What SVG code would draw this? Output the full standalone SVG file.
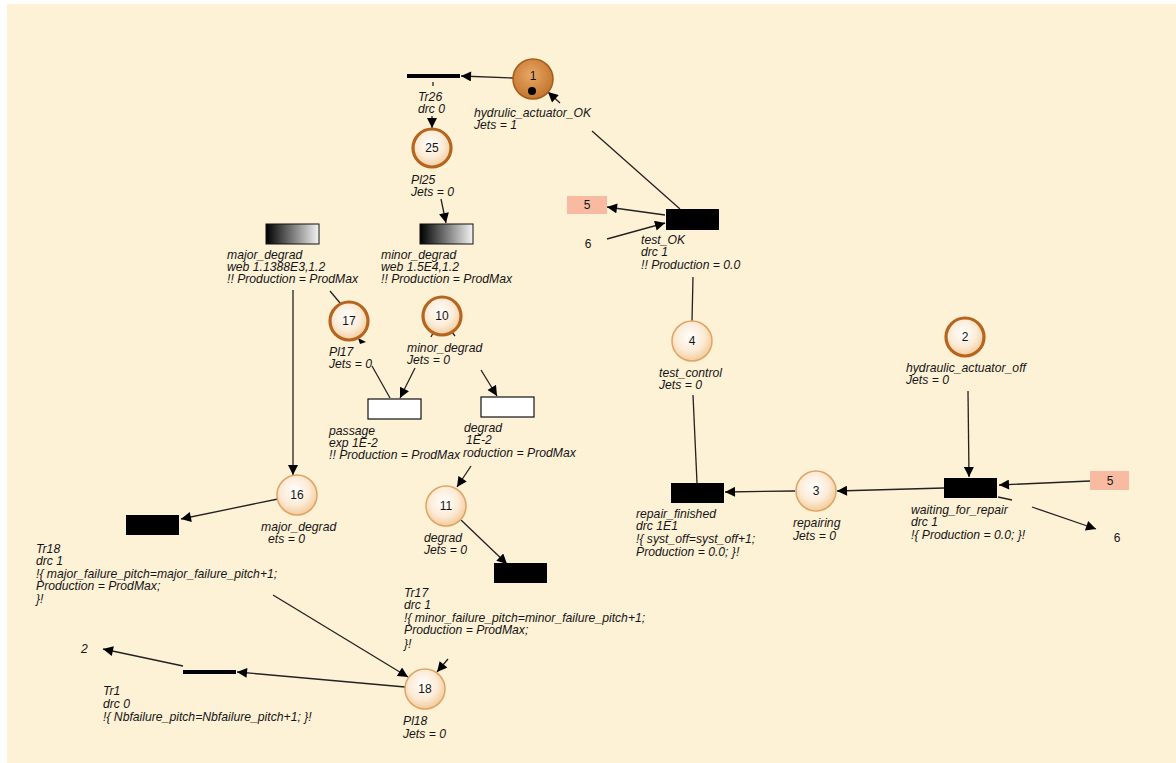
<svg xmlns="http://www.w3.org/2000/svg" width="1176" height="763" viewBox="0 0 1176 763">
<style>
.lbl{font-family:"Liberation Sans",Arial,sans-serif;font-size:12.2px;font-style:italic;fill:#151515}
.num{font-family:"Liberation Sans",Arial,sans-serif;font-size:12px;fill:#151515;text-anchor:middle}
.edge{stroke:#222;stroke-width:1.3;fill:none}
.arr{marker-end:url(#ah)}
.thick{fill:url(#pl);stroke:#B5651D;stroke-width:3.2}
.thin{fill:url(#pl);stroke:#E0A463;stroke-width:1.5}
.bar{fill:#000}
.tr{fill:#000}
.wt{fill:#fff;stroke:#111;stroke-width:1.2}
.gr{fill:url(#gd);stroke:#111;stroke-width:1}
.ext{fill:#F8BBA2}
</style>
<defs>
<radialGradient id="pl" cx="0.45" cy="0.4" r="0.6">
<stop offset="0" stop-color="#FFFFFF"/>
<stop offset="0.6" stop-color="#FCEBD6"/>
<stop offset="1" stop-color="#F3CB9C"/>
</radialGradient>
<radialGradient id="p1" cx="0.45" cy="0.4" r="0.65">
<stop offset="0" stop-color="#E8A764"/>
<stop offset="1" stop-color="#C0722A"/>
</radialGradient>
<linearGradient id="gd" x1="0" y1="0" x2="1" y2="0">
<stop offset="0" stop-color="#000"/>
<stop offset="1" stop-color="#F4F4F4"/>
</linearGradient>
<marker id="ah" viewBox="0 0 10 10" refX="10" refY="5" markerWidth="11" markerHeight="10" markerUnits="userSpaceOnUse" orient="auto">
<path d="M0,0 L10,5 L0,10 z" fill="#000"/>
</marker>
</defs>
<rect x="0" y="0" width="1176" height="763" fill="#fff"/>
<rect x="7" y="4" width="1169" height="759" fill="#FDF1D6"/>

<g id="connectors">
<line class="edge arr" x1="513" y1="78" x2="461" y2="76"/>
<line class="edge" x1="433" y1="82" x2="433" y2="86"/>
<line class="edge arr" x1="432" y1="116" x2="432" y2="128"/>
<line class="edge arr" x1="441" y1="199" x2="446" y2="223"/>
<line class="edge arr" x1="293" y1="290" x2="293" y2="475"/>
<line class="edge" x1="330" y1="291" x2="340" y2="303"/>
<path d="M358,338 L366,342 L360,344 z" fill="#000"/>
<line class="edge" x1="372" y1="366" x2="390" y2="398"/>
<path d="M438,296 L446,296 L442,301 z" fill="#000"/>
<line class="edge" x1="433" y1="333" x2="431" y2="337"/>
<line class="edge" x1="452" y1="332" x2="455" y2="336"/>
<line class="edge arr" x1="415" y1="368" x2="400" y2="398"/>
<line class="edge arr" x1="481" y1="370" x2="497" y2="396"/>
<line class="edge arr" x1="471" y1="466" x2="457" y2="487"/>
<line class="edge arr" x1="461" y1="520" x2="507" y2="564"/>
<line class="edge arr" x1="278" y1="499" x2="181" y2="519"/>
<line class="edge arr" x1="273" y1="595" x2="408" y2="677"/>
<line class="edge arr" x1="448" y1="659" x2="437" y2="672"/>
<line class="edge arr" x1="405" y1="687" x2="237" y2="672"/>
<line class="edge arr" x1="183" y1="666" x2="103" y2="649"/>
<line class="edge" x1="680" y1="209" x2="592" y2="131"/>
<line class="edge arr" x1="560" y1="103" x2="548" y2="92"/>
<line class="edge arr" x1="665" y1="215" x2="607" y2="207"/>
<line class="edge arr" x1="607" y1="239" x2="665" y2="223"/>
<line class="edge" x1="693" y1="277" x2="692" y2="321"/>
<line class="edge" x1="693" y1="395" x2="697" y2="483"/>
<line class="edge arr" x1="795" y1="491" x2="725" y2="492"/>
<line class="edge arr" x1="944" y1="488" x2="837" y2="491"/>
<line class="edge arr" x1="968" y1="391" x2="969" y2="477"/>
<line class="edge arr" x1="1090" y1="481" x2="999" y2="485"/>
<line class="edge" x1="998" y1="497" x2="1012" y2="500"/>
<line class="edge arr" x1="1032" y1="507" x2="1096" y2="529"/>
</g>

<g id="P1">
<circle cx="533" cy="79" r="20" fill="url(#p1)" stroke="#A65C18" stroke-width="1.5"/>
<text class="num" x="533" y="80">1</text>
<circle cx="532" cy="91" r="4" fill="#000"/>
<text class="lbl" x="474" y="117">hydrulic_actuator_OK</text>
<text class="lbl" x="474" y="129">Jets = 1</text>
</g>
<g id="Tr26">
<rect class="bar" x="407" y="74" width="53" height="4"/>
<text class="lbl" x="418" y="101">Tr26</text>
<text class="lbl" x="418" y="113">drc  0</text>
</g>
<g id="P25">
<circle class="thick" cx="432" cy="148" r="19"/>
<text class="num" x="432" y="152">25</text>
<text class="lbl" x="411" y="184">Pl25</text>
<text class="lbl" x="411" y="196">Jets = 0</text>
</g>
<g id="T_major_degrad">
<rect class="gr" x="266" y="224" width="53" height="20"/>
<text class="lbl" x="227" y="259">major_degrad</text>
<text class="lbl" x="227" y="271">web 1.1388E3,1.2</text>
<text class="lbl" x="227" y="283">!! Production = ProdMax</text>
</g>
<g id="T_minor_degrad">
<rect class="gr" x="420" y="224" width="53" height="20"/>
<text class="lbl" x="381" y="259">minor_degrad</text>
<text class="lbl" x="381" y="271">web 1.5E4,1.2</text>
<text class="lbl" x="381" y="283">!! Production = ProdMax</text>
</g>
<g id="P17">
<circle class="thick" cx="349" cy="321" r="19"/>
<text class="num" x="349" y="325">17</text>
<text class="lbl" x="329" y="356">Pl17</text>
<text class="lbl" x="329" y="368">Jets = 0</text>
</g>
<g id="P10">
<circle class="thick" cx="442" cy="316" r="19"/>
<text class="num" x="442" y="320">10</text>
<text class="lbl" x="407" y="352">minor_degrad</text>
<text class="lbl" x="407" y="364">Jets = 0</text>
</g>
<g id="T_passage">
<rect class="wt" x="368" y="399" width="53" height="20"/>
<text class="lbl" x="329" y="435">passage</text>
<text class="lbl" x="329" y="447">exp 1E-2</text>
<text class="lbl" x="329" y="459">!! Production = ProdMax</text>
</g>
<g id="T_degrad">
<rect class="wt" x="481" y="397" width="53" height="20"/>
<text class="lbl" x="464" y="432">degrad</text>
<text class="lbl" x="466" y="444">1E-2</text>
<text class="lbl" x="463" y="457">roduction = ProdMax</text>
</g>
<g id="P16">
<circle class="thin" cx="297" cy="495" r="20"/>
<text class="num" x="297" y="499">16</text>
<text class="lbl" x="261" y="531">major_degrad</text>
<text class="lbl" x="268" y="543">ets = 0</text>
</g>
<g id="P11">
<circle class="thin" cx="446" cy="506" r="20"/>
<text class="num" x="446" y="510">11</text>
<text class="lbl" x="424" y="542">degrad</text>
<text class="lbl" x="424" y="554">Jets = 0</text>
</g>
<g id="Tr18">
<rect class="tr" x="126" y="515" width="53" height="20"/>
<text class="lbl" x="36" y="553">Tr18</text>
<text class="lbl" x="36" y="565">drc  1</text>
<text class="lbl" x="36" y="578">!{ major_failure_pitch=major_failure_pitch+1;</text>
<text class="lbl" x="36" y="590">Production = ProdMax;</text>
<text class="lbl" x="36" y="603"> }!</text>
</g>
<g id="Tr17">
<rect class="tr" x="494" y="563" width="53" height="20"/>
<text class="lbl" x="404" y="597">Tr17</text>
<text class="lbl" x="404" y="609">drc  1</text>
<text class="lbl" x="404" y="622">!{ minor_failure_pitch=minor_failure_pitch+1;</text>
<text class="lbl" x="404" y="634">Production = ProdMax;</text>
<text class="lbl" x="404" y="648"> }!</text>
</g>
<g id="P18">
<circle class="thin" cx="425" cy="689" r="20"/>
<text class="num" x="425" y="693">18</text>
<text class="lbl" x="403" y="725">Pl18</text>
<text class="lbl" x="403" y="738">Jets = 0</text>
</g>
<g id="Tr1">
<rect class="bar" x="183" y="670" width="53" height="4"/>
<text class="lbl" x="103" y="695">Tr1</text>
<text class="lbl" x="103" y="708">drc  0</text>
<text class="lbl" x="103" y="721">!{ Nbfailure_pitch=Nbfailure_pitch+1; }!</text>
</g>
<g id="ref2">
<text class="lbl" x="81" y="653">2</text>
</g>
<g id="test_OK">
<rect class="tr" x="666" y="209" width="53" height="21"/>
<text class="lbl" x="641" y="244">test_OK</text>
<text class="lbl" x="641" y="256">drc  1</text>
<text class="lbl" x="641" y="269">!! Production = 0.0</text>
</g>
<g id="ref5a">
<rect class="ext" x="567" y="196" width="40" height="18"/>
<text class="num" x="587" y="209">5</text>
</g>
<g id="ref6a">
<text class="num" x="588" y="248">6</text>
</g>
<g id="P4">
<circle class="thin" cx="692" cy="341" r="20"/>
<text class="num" x="692" y="345">4</text>
<text class="lbl" x="659" y="377">test_control</text>
<text class="lbl" x="659" y="389">Jets = 0</text>
</g>
<g id="repair_finished">
<rect class="tr" x="671" y="483" width="53" height="20"/>
<text class="lbl" x="636" y="518">repair_finished</text>
<text class="lbl" x="636" y="530">drc  1E1</text>
<text class="lbl" x="636" y="543">!{ syst_off=syst_off+1;</text>
<text class="lbl" x="636" y="556">Production = 0.0; }!</text>
</g>
<g id="P3">
<circle class="thin" cx="816" cy="491" r="20"/>
<text class="num" x="816" y="495">3</text>
<text class="lbl" x="793" y="527">repairing</text>
<text class="lbl" x="793" y="540">Jets = 0</text>
</g>
<g id="P2">
<circle class="thick" cx="965" cy="337" r="19"/>
<text class="num" x="965" y="341">2</text>
<text class="lbl" x="906" y="372">hydraulic_actuator_off</text>
<text class="lbl" x="906" y="384">Jets = 0</text>
</g>
<g id="waiting_for_repair">
<rect class="tr" x="944" y="478" width="53" height="20"/>
<text class="lbl" x="911" y="514">waiting_for_repair</text>
<text class="lbl" x="911" y="526">drc  1</text>
<text class="lbl" x="911" y="539">!{ Production = 0.0; }!</text>
</g>
<g id="ref5b">
<rect class="ext" x="1090" y="471" width="39" height="19"/>
<text class="num" x="1110" y="485">5</text>
</g>
<g id="ref6b">
<text class="num" x="1117" y="542">6</text>
</g>
</svg>
